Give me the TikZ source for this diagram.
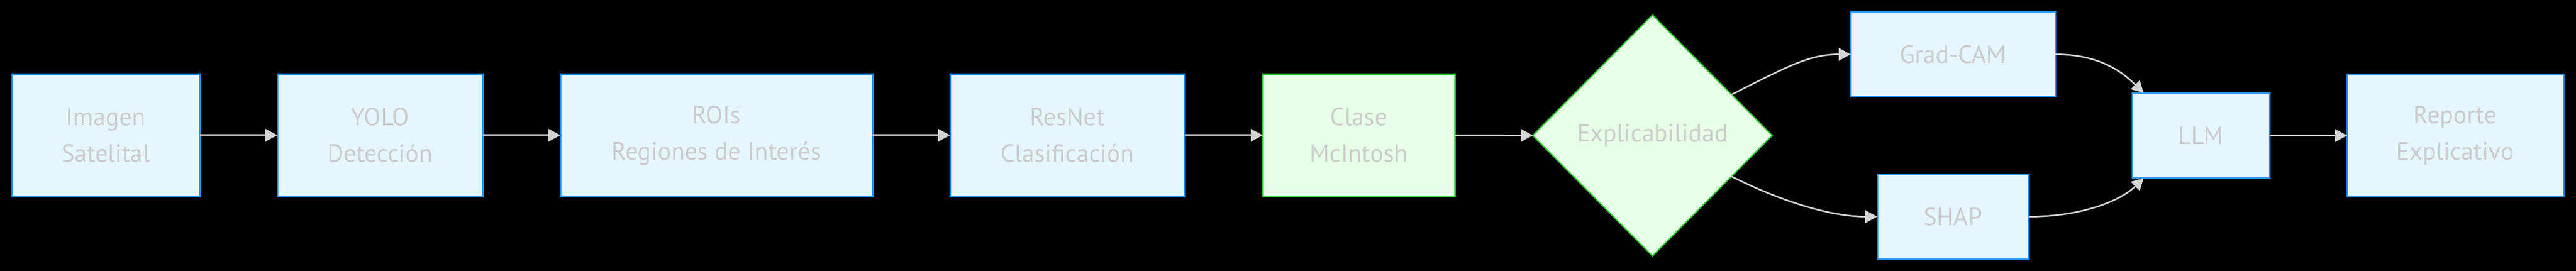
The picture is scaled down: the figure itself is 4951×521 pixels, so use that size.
\documentclass[tikz,border=0pt]{standalone}
\usepackage{fontspec}
\setmainfont{PT Sans}
\usetikzlibrary{shapes.geometric,arrows.meta,calc}

\definecolor{boxblue}{HTML}{E6F6FF}
\definecolor{edgeblue}{HTML}{1E90FF}
\definecolor{boxgreen}{HTML}{E6FFE6}
\definecolor{edgegreen}{HTML}{32CD32}
\definecolor{txtgray}{HTML}{CCCCCC}
\definecolor{linkgray}{HTML}{D3D3D3}

\begin{document}
\begin{tikzpicture}[x=1pt,y=-1pt,
    every node/.style={font=\fontsize{48}{70}\selectfont, text=txtgray, align=center, inner sep=0pt, outer sep=0pt, line width=3pt},
    bluebox/.style={draw=edgeblue, fill=boxblue, minimum height=234pt},
    greenbox/.style={draw=edgegreen, fill=boxgreen, minimum height=234pt},
    smallbox/.style={draw=edgeblue, fill=boxblue, minimum height=163pt},
    choice/.style={diamond, draw=edgegreen, fill=boxgreen, line width=2.5pt, minimum width=460pt, minimum height=463pt},
    link/.style={draw=linkgray, line width=3pt, -{Triangle[length=23pt,width=24pt]}}]
      \fill[black] (0,0) rectangle (4951,521);
      % main chain
      \node[bluebox, minimum width=361pt] (img) at (203.5,260) {Imagen\\Satelital};
      \node[bluebox, minimum width=395pt] (yolo) at (730.5,260) {YOLO\\Detección};
      \node[bluebox, minimum width=600pt] (rois) at (1377,260) {ROIs\\Regiones de Interés};
      \node[bluebox, minimum width=451pt] (resnet) at (2051.5,260) {ResNet\\Clasificación};
      \node[greenbox, minimum width=369pt] (clase) at (2611.5,260) {Clase\\McIntosh};
      \node[choice] (expl) at (3176,260.5) {Explicabilidad};
      % branches
      \node[smallbox, minimum width=393pt] (gradcam) at (3753.5,104.5) {Grad-CAM};
      \node[smallbox, minimum width=291pt] (shap) at (3753.5,416.5) {SHAP};
      \node[smallbox, minimum width=264pt] (llm) at (4230,260.5) {LLM};
      \node[bluebox, minimum width=416pt] (rep) at (4719,260.5) {Reporte\\Explicativo};
      \draw[link] (img) -- (yolo);
      \draw[link] (yolo) -- (rois);
      \draw[link] (rois) -- (resnet);
      \draw[link] (resnet) -- (clase);
      \draw[link] (clase) -- (expl);
      \draw[link] ($(expl.north)!0.66!(expl.east)$) .. controls +(110,-55) and +(-80,0) .. (gradcam.west);
      \draw[link] ($(expl.south)!0.66!(expl.east)$) .. controls +(110,55) and +(-80,0) .. (shap.west);
      \draw[link] (gradcam.east) .. controls +(80,0) and +(-45,-45) .. ($(llm.north west)+(22,0)$);
      \draw[link] (shap.east) .. controls +(100,0) and +(-45,45) .. ($(llm.south west)+(22,0)$);
      \draw[link] (llm) -- (rep);
\end{tikzpicture}
\end{document}
